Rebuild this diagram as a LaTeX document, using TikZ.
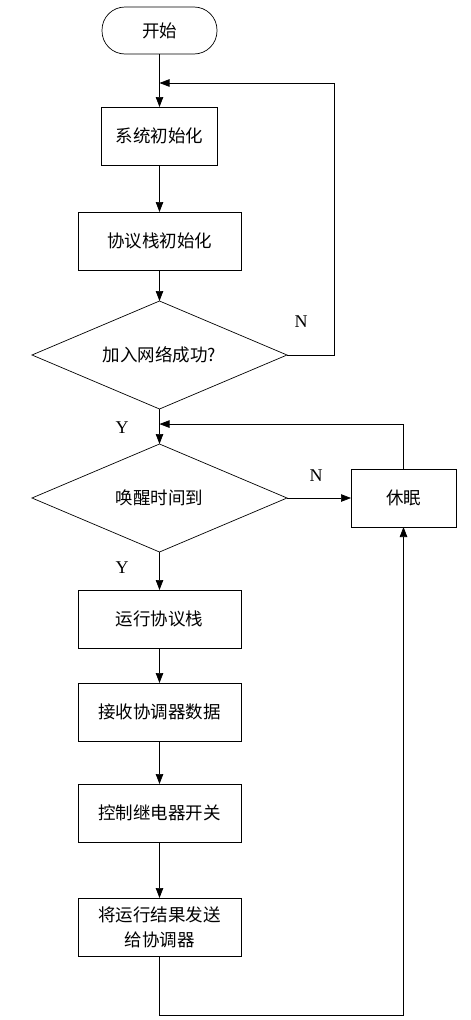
\documentclass[tikz,border=0pt]{standalone}
\usepackage{fontspec}
\setmainfont{Liberation Serif}
\newfontfamily\cjk{Noto Sans CJK SC}
\usetikzlibrary{shapes,arrows.meta,positioning,calc}
\tikzstyle{cnfont} = [font=\cjk\fontsize{17.5}{25}\selectfont]
\tikzstyle{startbox} = [draw, rectangle, rounded corners=23pt, cnfont,
    minimum width=115pt, minimum height=47pt, inner sep=0pt, outer sep=0pt]
\tikzstyle{procbox} = [draw, rectangle, cnfont, align=center,
    minimum width=163pt, minimum height=58pt, inner sep=0pt, outer sep=0pt]
\tikzstyle{testbox} = [draw, diamond, aspect=2.36, cnfont,
    minimum width=255pt, minimum height=108pt, inner sep=0pt, outer sep=0pt]
\tikzstyle{line} = [draw, line width=0.7pt, -{Triangle[length=10pt,width=7.5pt]}]
\tikzstyle{yesno} = [font=\fontsize{18}{18}\selectfont]

\begin{document}
\begin{tikzpicture}[x=1pt,y=1pt,line width=0.7pt]
\useasboundingbox (0,0) rectangle (471,-1020);

\node [startbox] (start) at (159.5,-30.5) {开始};
\node [procbox, minimum width=116pt, below=53pt of start] (sysinit) {系统初始化};
\node [procbox, below=47pt of sysinit] (stackinit) {协议栈初始化};
\node [testbox, below=31pt of stackinit] (join) {加入网络成功?};
\node [testbox, below=35pt of join] (wake) {唤醒时间到};
\node [procbox, minimum width=105pt, right=64pt of wake] (sleep) {休眠};
\node [procbox, below=38pt of wake] (runstack) {运行协议栈};
\node [procbox, below=35pt of runstack] (recv) {接收协调器数据};
\node [procbox, below=43pt of recv] (relay) {控制继电器开关};
\node [procbox, below=56pt of relay] (send) {将运行结果发送\\给协调器};

% merge points on the main line
\coordinate (m1) at ($(start.south)!0.547!(sysinit.north)$);
\coordinate (m2) at ($(join.south)!0.43!(wake.north)$);

\path [line] (start) -- (sysinit);
\path [line] (sysinit) -- (stackinit);
\path [line] (stackinit) -- (join);
\path [line] (join) -- (wake);
\path [line] (wake) -- (runstack);
\path [line] (runstack) -- (recv);
\path [line] (recv) -- (relay);
\path [line] (relay) -- (send);

\path [line] (join.east) -- ++(47,0) |- (m1);
\path [line] (wake.east) -- (sleep.west);
\path [line] (sleep.north) |- (m2);
\path [line] (send.south) -- ++(0,-59) -| (sleep.south);

\node [yesno] (n1) at (301,-322) {N};
\node [yesno] (n2) at (316,-476) {N};
\node [yesno] (y1) at (122,-428) {Y};
\node [yesno] (y2) at (122,-568) {Y};

\end{tikzpicture}
\end{document}
